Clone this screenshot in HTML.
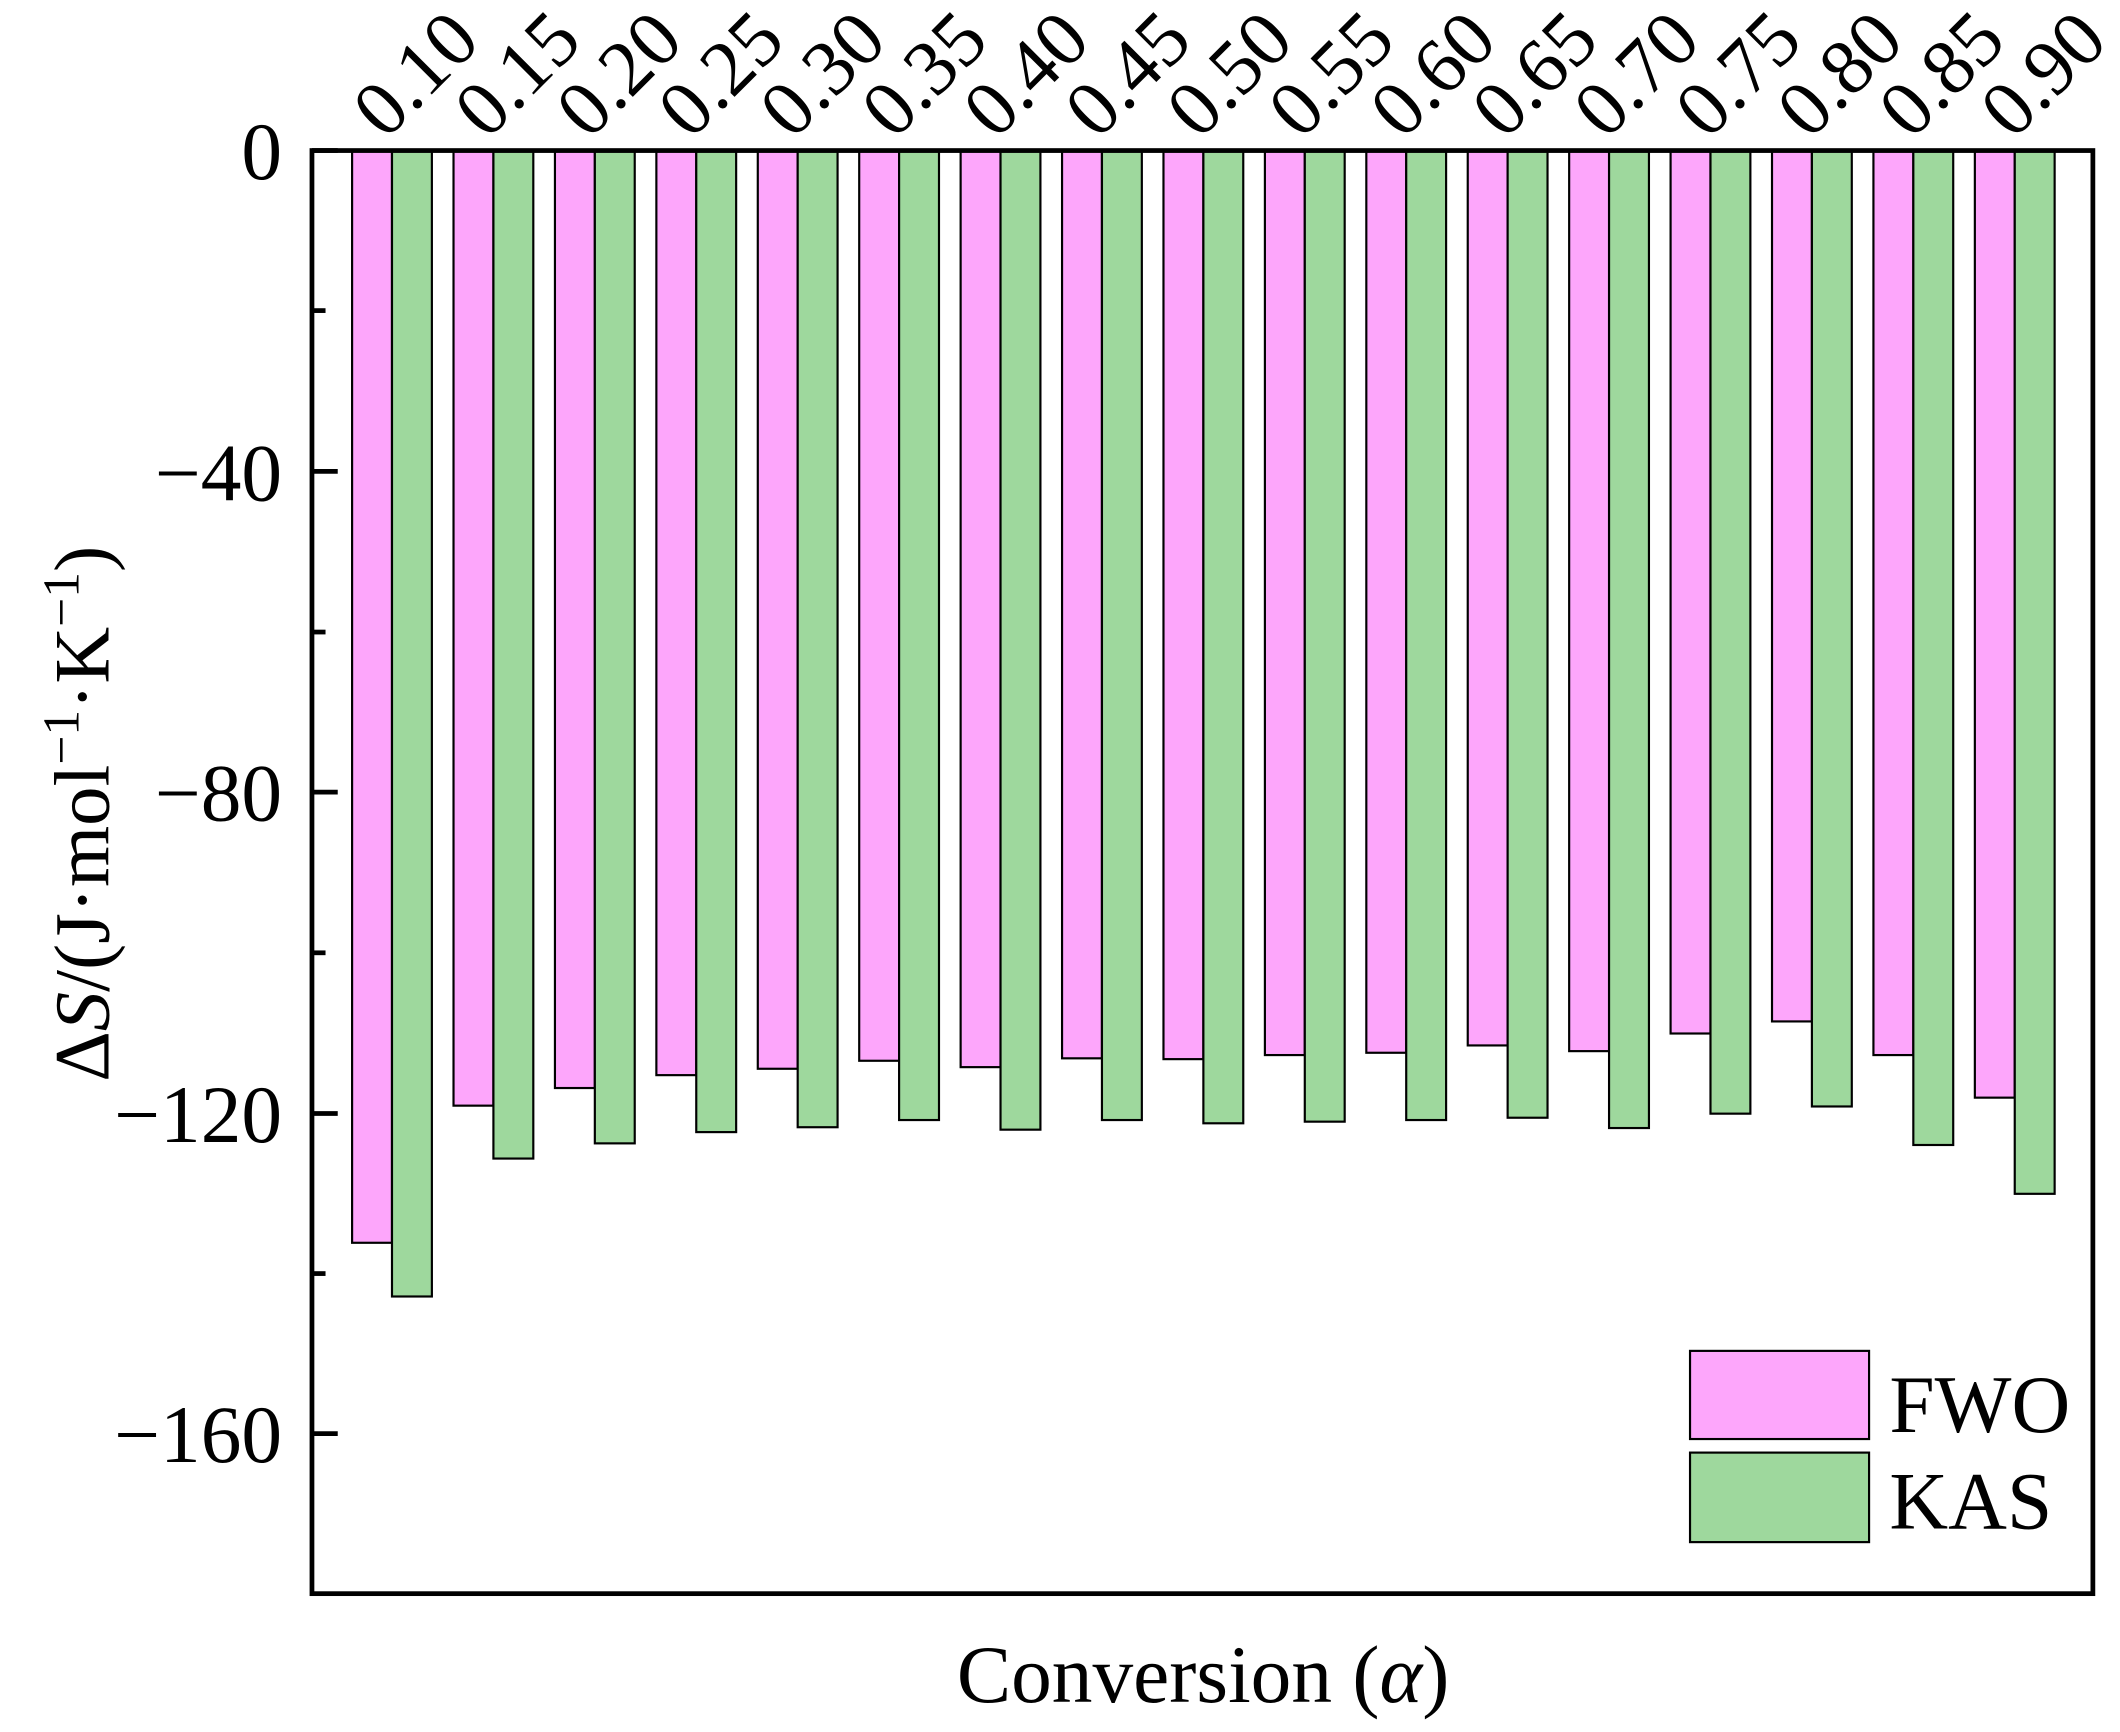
<!DOCTYPE html>
<html><head><meta charset="utf-8"><style>html,body{margin:0;padding:0;background:#fff}svg{display:block}</style></head>
<body>
<svg width="2120" height="1732" viewBox="0 0 1563 1277" preserveAspectRatio="none" xmlns="http://www.w3.org/2000/svg" font-family="'Liberation Serif', serif">
<g stroke="#000" stroke-width="1.6" transform="translate(289,0) scale(0.997,1) translate(-289,0)">
<rect x="259.5" y="111" width="29.5" height="805.3" fill="#fda6fb"/><rect x="289" y="111" width="29.5" height="844.9" fill="#9ed89d"/>
<rect x="334.5" y="111" width="29.5" height="704.2" fill="#fda6fb"/><rect x="364" y="111" width="29.5" height="743.2" fill="#9ed89d"/>
<rect x="409.5" y="111" width="29.5" height="691.2" fill="#fda6fb"/><rect x="439" y="111" width="29.5" height="732.0" fill="#9ed89d"/>
<rect x="484.5" y="111" width="29.5" height="681.7" fill="#fda6fb"/><rect x="514" y="111" width="29.5" height="723.7" fill="#9ed89d"/>
<rect x="559.5" y="111" width="29.5" height="677.0" fill="#fda6fb"/><rect x="589" y="111" width="29.5" height="720.1" fill="#9ed89d"/>
<rect x="634.5" y="111" width="29.5" height="671.1" fill="#fda6fb"/><rect x="664" y="111" width="29.5" height="714.8" fill="#9ed89d"/>
<rect x="709.5" y="111" width="29.5" height="675.8" fill="#fda6fb"/><rect x="739" y="111" width="29.5" height="721.9" fill="#9ed89d"/>
<rect x="784.5" y="111" width="29.5" height="669.3" fill="#fda6fb"/><rect x="814" y="111" width="29.5" height="714.8" fill="#9ed89d"/>
<rect x="859.5" y="111" width="29.5" height="669.9" fill="#fda6fb"/><rect x="889" y="111" width="29.5" height="717.2" fill="#9ed89d"/>
<rect x="934.5" y="111" width="29.5" height="666.9" fill="#fda6fb"/><rect x="964" y="111" width="29.5" height="716.0" fill="#9ed89d"/>
<rect x="1009.5" y="111" width="29.5" height="665.2" fill="#fda6fb"/><rect x="1039" y="111" width="29.5" height="714.8" fill="#9ed89d"/>
<rect x="1084.5" y="111" width="29.5" height="659.8" fill="#fda6fb"/><rect x="1114" y="111" width="29.5" height="713.1" fill="#9ed89d"/>
<rect x="1159.5" y="111" width="29.5" height="664.0" fill="#fda6fb"/><rect x="1189" y="111" width="29.5" height="720.7" fill="#9ed89d"/>
<rect x="1234.5" y="111" width="29.5" height="651.0" fill="#fda6fb"/><rect x="1264" y="111" width="29.5" height="710.1" fill="#9ed89d"/>
<rect x="1309.5" y="111" width="29.5" height="642.1" fill="#fda6fb"/><rect x="1339" y="111" width="29.5" height="704.8" fill="#9ed89d"/>
<rect x="1384.5" y="111" width="29.5" height="666.9" fill="#fda6fb"/><rect x="1414" y="111" width="29.5" height="733.2" fill="#9ed89d"/>
<rect x="1459.5" y="111" width="29.5" height="698.3" fill="#fda6fb"/><rect x="1489" y="111" width="29.5" height="769.2" fill="#9ed89d"/>
</g>
<rect x="230" y="111" width="1313" height="1064" fill="none" stroke="#000" stroke-width="3.5"/>
<g stroke="#000" stroke-width="3.5">
<line x1="230" y1="111" x2="249" y2="111"/>
<line x1="230" y1="229" x2="240" y2="229"/>
<line x1="230" y1="347.5" x2="249" y2="347.5"/>
<line x1="230" y1="466" x2="240" y2="466"/>
<line x1="230" y1="584" x2="249" y2="584"/>
<line x1="230" y1="702.5" x2="240" y2="702.5"/>
<line x1="230" y1="821" x2="249" y2="821"/>
<line x1="230" y1="939" x2="240" y2="939"/>
<line x1="230" y1="1057" x2="249" y2="1057"/>
</g>
<g font-size="60" text-anchor="end">
<text x="208" y="132">0</text>
<text x="208" y="369">−40</text>
<text x="208" y="605">−80</text>
<text x="208" y="842">−120</text>
<text x="208" y="1078">−160</text>
</g>
<g font-size="58">
<text transform="translate(284,104) rotate(-45)">0.10</text>
<text transform="translate(359,104) rotate(-45)">0.15</text>
<text transform="translate(434,104) rotate(-45)">0.20</text>
<text transform="translate(509,104) rotate(-45)">0.25</text>
<text transform="translate(584,104) rotate(-45)">0.30</text>
<text transform="translate(659,104) rotate(-45)">0.35</text>
<text transform="translate(734,104) rotate(-45)">0.40</text>
<text transform="translate(809,104) rotate(-45)">0.45</text>
<text transform="translate(884,104) rotate(-45)">0.50</text>
<text transform="translate(959,104) rotate(-45)">0.55</text>
<text transform="translate(1034,104) rotate(-45)">0.60</text>
<text transform="translate(1109,104) rotate(-45)">0.65</text>
<text transform="translate(1184,104) rotate(-45)">0.70</text>
<text transform="translate(1259,104) rotate(-45)">0.75</text>
<text transform="translate(1334,104) rotate(-45)">0.80</text>
<text transform="translate(1409,104) rotate(-45)">0.85</text>
<text transform="translate(1484,104) rotate(-45)">0.90</text>
</g>
<text font-size="58" transform="translate(80,600) rotate(-90)" text-anchor="middle">Δ<tspan font-style="italic">S</tspan>/(J·mol<tspan font-size="38" dy="-22">−1</tspan><tspan dy="22">·K</tspan><tspan font-size="38" dy="-22">−1</tspan><tspan dy="22">)</tspan></text>
<text x="887" y="1255" font-size="60" text-anchor="middle">Conversion (<tspan font-style="italic">α</tspan>)</text>
<rect x="1246" y="996" width="132" height="65" fill="#fda6fb" stroke="#000" stroke-width="1.6"/>
<rect x="1246" y="1071" width="132" height="66" fill="#9ed89d" stroke="#000" stroke-width="1.6"/>
<text x="1393" y="1056" font-size="60">FWO</text>
<text x="1393" y="1127" font-size="60">KAS</text>
</svg>
</body></html>
